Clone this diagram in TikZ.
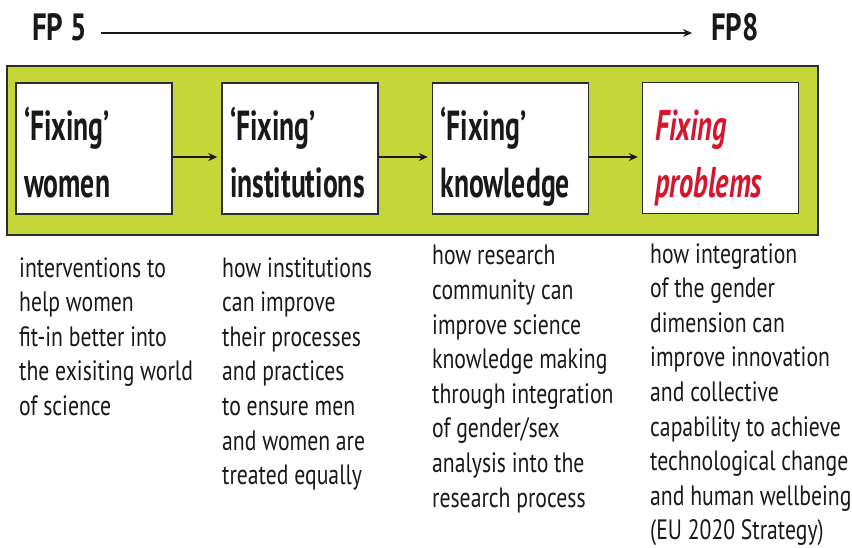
\documentclass[tikz,border=0pt]{standalone}
\usepackage{fontspec}
\setmainfont{PT Sans}
\newfontfamily\condfont[FakeStretch=0.775]{PT Sans}
\newfontfamily\headfont[FakeStretch=0.66]{PT Sans}
\newfontfamily\fpfont[FakeStretch=0.76]{PT Sans}
\usetikzlibrary{arrows.meta}
\definecolor{band}{RGB}{197,214,56}
\definecolor{fixred}{RGB}{213,22,44}
\definecolor{edge}{RGB}{45,45,45}
\definecolor{ink}{RGB}{25,25,25}
\newcommand\toppad{\rule{0pt}{53pt}}
\newcommand\botpad{\rule[-12pt]{0pt}{12pt}}
\begin{document}
\begin{tikzpicture}[x=1pt,y=-1pt,
  stagebox/.style={draw=edge,line width=1.4pt,fill=white,minimum width=156pt,minimum height=131pt,
    inner xsep=8pt,inner ysep=0pt,text width=140pt,align=left,text=ink,
    font=\headfont\bfseries\fontsize{42}{57}\selectfont},
  desc/.style={anchor=north west,inner sep=0pt,align=left,text=ink,
    font=\condfont\fontsize{28}{34.6}\selectfont},
  fplabel/.style={inner sep=0pt,text=ink,font=\fpfont\bfseries\fontsize{38}{40}\selectfont},
  link/.style={draw=ink,line width=1.3pt,-{Stealth[length=9pt,width=8pt]}}]
\useasboundingbox (0,0) rectangle (852,547);
% header
\node[fplabel,anchor=base west] (fp5) at (32,40) {FP 5};
\node[fplabel,anchor=base west] (fp8) at (711,40) {FP8};
\draw[draw=ink,line width=1.1pt,-{Stealth[length=9pt,width=8pt]}] ([xshift=14pt]fp5.east |- 0,33) coordinate (a0) -- ([xshift=-19pt]fp8.west |- 0,33) coordinate (a1);
% band
\node[draw=edge,line width=1.5pt,fill=band,minimum width=811pt,minimum height=169pt,inner sep=0pt] (band) at (412.5,150.5) {};
% boxes
\node[stagebox] (b1) at (94,148.5) {\toppad‘Fixing’\\women\botpad};
\node[stagebox] (b2) at (300,148.5) {\toppad‘Fixing’\\institutions\botpad};
\node[stagebox] (b3) at (510.5,148.5) {\toppad‘Fixing’\\knowledge\botpad};
\node[stagebox,text=fixred,inner xsep=13pt,text width=130pt,font=\headfont\bfseries\itshape\fontsize{43}{57}\selectfont] (b4) at (720.5,148) {\toppad Fixing\\problems\botpad};
% arrows
\draw[link] (b1.east |- 0,157) -- ([xshift=-4pt]b2.west |- 0,157);
\draw[link] (b2.east |- 0,157) -- ([xshift=-4pt]b3.west |- 0,157);
\draw[link] (b3.east |- 0,157) -- ([xshift=-4pt]b4.west |- 0,157);
% descriptions
\node[desc] (d1) at (19,257) {interventions to\\help women\\fit-in better into\\the exisiting world\\of science};
\node[desc] (d2) at (222,257) {how institutions\\can improve\\their processes\\and practices\\to ensure men\\and women are\\treated equally};
\node[desc] (d3) at (432,245) {how research\\community can\\improve science\\knowledge making\\through integration\\of gender/sex\\analysis into the\\research process};
\node[desc] (d4) at (650,243) {how integration\\of the gender\\dimension can\\improve innovation\\and collective\\capability to achieve\\technological change\\and human wellbeing\\(EU 2020 Strategy)};
\end{tikzpicture}
\end{document}
